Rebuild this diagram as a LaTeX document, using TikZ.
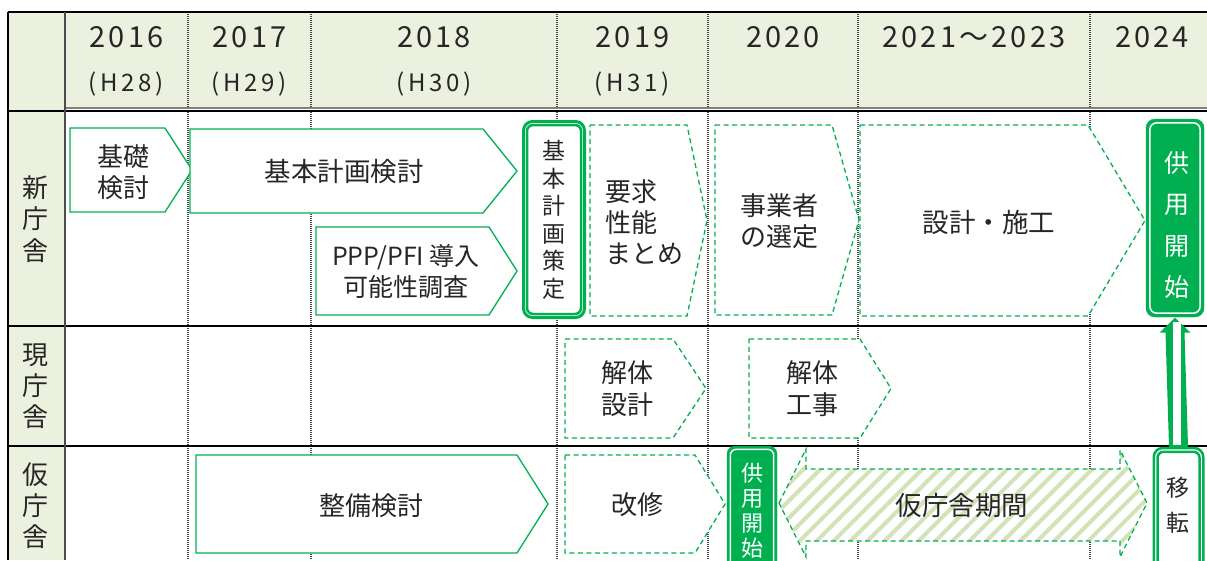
\documentclass[tikz,border=0pt]{standalone}
\usepackage{fontspec}
\setmainfont{Noto Sans CJK JP}
\newfontfamily\yrfont[LetterSpace=11]{Noto Sans CJK JP}
\newfontfamily\hyfont[LetterSpace=15]{Noto Sans CJK JP}
\usetikzlibrary{patterns.meta}
\definecolor{gr}{RGB}{0,176,80}
\definecolor{hdrfill}{RGB}{235,241,222}
\definecolor{hatchc}{RGB}{212,226,184}
\definecolor{gridc}{RGB}{70,70,70}
\tikzset{
  solidbox/.style={draw=gr, line width=1.3, fill=white, line join=miter},
  dashbox/.style={draw=gr, line width=1.3, fill=white, dash pattern=on 5pt off 3.5pt},
  txt/.style={inner sep=0, font=\fontsize{26}{31}\selectfont, text=black!85},
  vtxt/.style={inner sep=0, align=center, text=black!85},
  yr/.style={inner sep=0, font=\yrfont\fontsize{29}{30}\selectfont, text=black!85},
  hy/.style={inner sep=0, font=\hyfont\fontsize{24}{26}\selectfont, text=black!85},
  gridline/.style={draw=gridc, line width=1.2, dash pattern=on 1pt off 1pt},
  rowline/.style={draw=black, line width=2.5},
  greenbox/.style={fill=gr, draw=gr, rounded corners=9, inner sep=0},
  dblbox/.style={draw=gr, line width=3, fill=white, rounded corners=9, inner sep=0},
}
\begin{document}
\begin{tikzpicture}[x=1pt,y=-1pt]
\useasboundingbox (0,0) rectangle (1207,560);
% fills
\fill[hdrfill] (8,12) rectangle (1207,109);
\fill[hdrfill] (8,109) rectangle (65,560);
% dotted grid
\foreach \gx in {188,311,557,708,858,1090}
  \draw[gridline] (\gx,12) -- (\gx,560);
% row lines
\draw[line width=2.5] (8,12) -- (1207,12);
\draw[line width=1.5, draw=gray] (65,108) -- (1207,108);
\draw[line width=2] (8,110.5) -- (1207,110.5);
\draw[rowline] (8,326) -- (1207,326);
\draw[rowline] (8,446) -- (1207,446);
\draw[line width=2] (8,12) -- (8,560);
\draw[line width=2, draw=black!70] (65,12) -- (65,560);

% header text
\node[yr] (y16) at (126.5,37) {2016};
\node[yr] (y17) at (249.5,37) {2017};
\node[yr] (y18) at (434,37) {2018};
\node[yr] (y19) at (632.5,37) {2019};
\node[yr] (y20) at (783,37) {2020};
\node[yr] (y21) at (974,37) {2021～2023};
\node[yr] (y24) at (1152,37) {2024};
\node[hy] (h28) at (126,84) {(H28)};
\node[hy] (h29) at (249,84) {(H29)};
\node[hy] (h30) at (434,84) {(H30)};
\node[hy] (h31) at (632,84) {(H31)};

% row labels
\node[vtxt, font=\fontsize{26}{31.5}\selectfont] (r1) at (36,219) {新\\庁\\舎};
\node[vtxt, font=\fontsize{26}{31}\selectfont] (r2) at (36,386) {現\\庁\\舎};
\node[vtxt, font=\fontsize{26}{31}\selectfont] (r3) at (36,506) {仮\\庁\\舎};

% row 1 shapes
\draw[solidbox] (70,128) -- (165,128) -- (192,170) -- (165,212) -- (70,212) -- cycle;
\draw[solidbox] (190,129) -- (483,129) -- (517,171) -- (483,213) -- (190,213) -- cycle;
\draw[solidbox] (316,227) -- (489,227) -- (517,271) -- (489,315) -- (316,315) -- cycle;
\draw[dashbox] (590,125) -- (687,125) -- (707,220.5) -- (687,316) -- (590,316) -- cycle;
\draw[dashbox] (715,125) -- (832,125) -- (859,220) -- (832,315) -- (715,315) -- cycle;
\draw[dashbox] (860,125) -- (1088,125) -- (1145,220.5) -- (1088,316) -- (860,316) -- cycle;

\node[txt, align=left] (kiso) at (123,172.5) {基礎\\検討};
\node[txt, font=\fontsize{26.5}{31}\selectfont] (kihon) at (344,171) {基本計画検討};
\node[txt, align=center, font=\fontsize{25}{31}\selectfont] (ppp) at (406,272) {PPP/PFI 導入\\可能性調査};
\node[txt, align=left, anchor=west] (yokyu) at (605,222) {要求\\性能\\まとめ};
\node[txt, align=left] (jigyo) at (779,221) {事業者\\の選定};
\node[txt, font=\fontsize{26.5}{31}\selectfont] (sekkei) at (989,222) {設計・施工};

% 基本計画策定 double box
\node[dblbox, minimum width=61, minimum height=196] (saku) at (554,219.5) {};
\draw[gr, line width=2.5, rounded corners=6] ([shift={(5,5)}]saku.north west) rectangle ([shift={(-5,-5)}]saku.south east);
\node[vtxt, font=\fontsize{23}{27.5}\selectfont] (sakut) at (554,220) {基\\本\\計\\画\\策\\定};

% 供用開始 (new building)
\node[greenbox, minimum width=58, minimum height=198] (kyo1) at (1175,218) {};
\draw[white, line width=1.5, rounded corners=7] ([shift={(4,4)}]kyo1.north west) rectangle ([shift={(-4,-4)}]kyo1.south east);
\node[vtxt, text=white, font=\fontsize{25}{41.5}\selectfont] (kyo1t) at (1177,225) {供\\用\\開\\始};

% row 2
\draw[dashbox] (565,339) -- (673,339) -- (706,388.5) -- (673,438) -- (565,438) -- cycle;
\draw[dashbox] (749,339) -- (860,339) -- (891,388.5) -- (860,438) -- (749,438) -- cycle;
\node[txt, align=left, font=\fontsize{26}{32}\selectfont] (kaitai1) at (627,389) {解体\\設計};
\node[txt, align=left, font=\fontsize{26}{32}\selectfont] (kaitai2) at (812,389) {解体\\工事};

% row 3
\draw[solidbox] (196,455) -- (517,455) -- (548,504) -- (517,553) -- (196,553) -- cycle;
\draw[dashbox] (565,455) -- (695,455) -- (725,504) -- (695,553) -- (565,553) -- cycle;
\node[txt] (seibi) at (371,506) {整備検討};
\node[txt] (kaishu) at (637,505) {改修};

% hatched double arrow
\path[fill=white] (779,503) -- (806,449) -- (806,469) -- (1120,469) -- (1120,450) -- (1147,503) -- (1120,557) -- (1120,541) -- (806,541) -- (806,557) -- cycle;
\path[pattern={Lines[angle=45,distance=12pt,line width=4pt]}, pattern color=hatchc] (779,503) -- (806,449) -- (806,469) -- (1120,469) -- (1120,450) -- (1147,503) -- (1120,557) -- (1120,541) -- (806,541) -- (806,557) -- cycle;
\draw[draw=gr, line width=1.3, dash pattern=on 5pt off 3.5pt] (779,503) -- (806,449) -- (806,469) -- (1120,469) -- (1120,450) -- (1147,503) -- (1120,557) -- (1120,541) -- (806,541) -- (806,557) -- cycle;
\node[txt, font=\fontsize{26.5}{31}\selectfont] (kari) at (962,505) {仮庁舎期間};

% 供用開始 (temporary)
\node[greenbox, rounded corners=8, minimum width=50, minimum height=134] (kyo2) at (752,513) {};
\draw[white, line width=1.5, rounded corners=6] ([shift={(3.5,3.5)}]kyo2.north west) rectangle ([shift={(-3.5,-3.5)}]kyo2.south east);
\node[vtxt, text=white, font=\fontsize{22}{25}\selectfont] (kyo2t) at (752,511) {供\\用\\開\\始};

% 移転 double box
\node[dblbox, line width=2.5, minimum width=49.5, minimum height=136] (iten) at (1178.5,516) {};
\draw[gr, line width=2.5, rounded corners=6] ([shift={(5,5)}]iten.north west) rectangle ([shift={(-5,-5)}]iten.south east);
\node[vtxt, font=\fontsize{23}{35}\selectfont] (itent) at (1178,505) {移\\転};

% arrow 移転 -> 供用開始
\coordinate (a0) at (iten.north);
\coordinate (a1) at (kyo1.south);
\fill[gr] ([shift={(0,0.5)}]a1) -- ([shift={(15.5,15.5)}]a1) -- ([shift={(9.5,15.5)}]a1) -- ([shift={(9.5,0)}]a0) -- ([shift={(-9.5,0)}]a0) -- ([shift={(-9.5,15.5)}]a1) -- ([shift={(-15.5,15.5)}]a1) -- cycle;
\fill[white] ([shift={(-2.5,5)}]a1) rectangle ([shift={(2.5,-1.5)}]a0);
\end{tikzpicture}
\end{document}
